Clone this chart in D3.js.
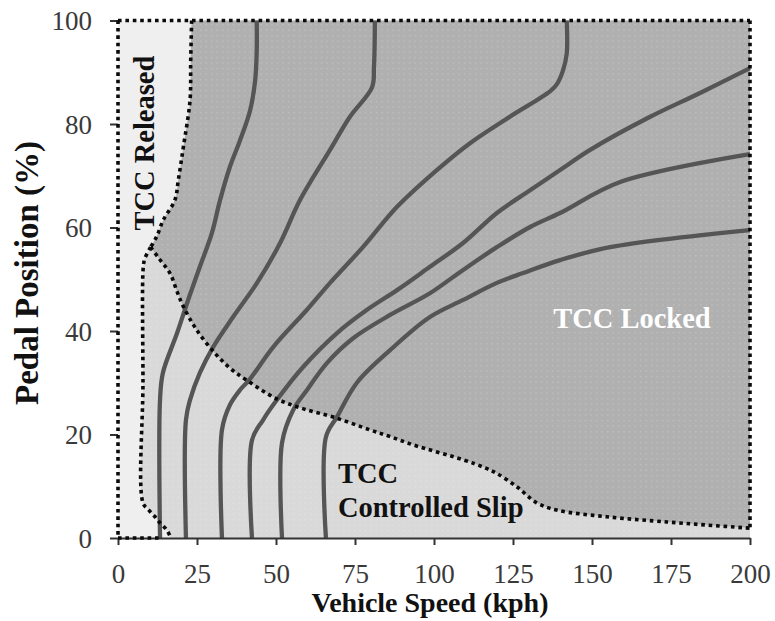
<!DOCTYPE html>
<html>
<head>
<meta charset="utf-8">
<script src="https://cdn.jsdelivr.net/npm/d3@7"></script>
<style>
  html, body { margin: 0; padding: 0; background: #fff; }
  svg { display: block; }
</style>
</head>
<body>
<svg id="chart" width="775" height="621"></svg>
<script>
// Axis ticks
const speedTicks = [0, 25, 50, 75, 100, 125, 150, 175, 200];
const pedalTicks = [0, 20, 40, 60, 80, 100];

// Region boundaries as [vehicle speed (kph), pedal position (%)]
// Released / Locked edge, from the top down to the junction
const releasedEdge = [[23.3, 100], [23.0, 92], [22.8, 84.6], [20.7, 75.6], [19.1, 69.2], [18.0, 65.3],
  [14.3, 61.4], [12.2, 58.2], [10.3, 56.2]];
// Released / Controlled-slip edge, from the junction down to the axis
const slipLeftEdge = [[10.3, 56.2], [8.5, 54], [8.0, 52.4], [7.9, 30], [7.9, 6.8], [9.6, 5.5],
  [11.7, 4.1], [13.3, 2.9], [15.5, 1.5], [16.5, 0.3]];
// Controlled-slip / Locked edge, from the junction out to 200 kph
const lockedEdge = [[10.3, 56.2], [13, 54], [16.5, 51.1], [18.7, 47.6], [20.7, 44.7], [24.9, 40.2],
  [30.7, 35.7], [35.5, 32.8], [40.7, 30.5], [50.2, 26.9], [58.5, 25], [68.5, 23.3], [79.7, 20.9],
  [86.1, 19.6], [93.4, 18], [109.3, 15.1], [116, 13.6], [119.8, 12.5], [126.2, 9.9], [132.5, 6.8],
  [138.8, 5.4], [154.7, 4.1], [173.7, 3.1], [186.4, 2.5], [200, 1.9]];

// Schedule curves, [vehicle speed (kph), pedal position (%)]
const curve1 = [[13.3, 0], [13.3, 26.7], [14.2, 31.9], [18.7, 39.6], [22.2, 46], [25.9, 52.4],
  [29.7, 58.9], [32.3, 65.3], [35.4, 71.7], [38.6, 76.8], [41.8, 82.6], [43.4, 88.4], [43.9, 94.2], [43.9, 100]];
const curve2 = [[21.5, 0], [21.5, 22.8], [22.8, 26.7], [25.9, 31.9], [30.1, 36.9], [36.4, 42.7],
  [44.0, 49.3], [51.3, 57.0], [57.6, 65.3], [67.1, 75.0], [73.4, 81.4], [80.4, 87.1], [81.0, 91], [81.3, 100]];
const curve3 = [[32.9, 0], [32.9, 20.9], [35.4, 25.7], [38.6, 28.6], [41.5, 30.5], [49.1, 36.9],
  [59.8, 44.1], [67.1, 49.3], [77.5, 56.2], [88.3, 64.0], [100.9, 71.1], [111.4, 76.3], [124, 81.4],
  [136.7, 86.3], [138.9, 87.7], [140.8, 90.3], [142, 93.6], [142, 100]];
const curve4 = [[42.4, 0], [42.4, 18.9], [45.9, 22.8], [50.3, 26.7], [58.5, 33.0], [69.3, 39.6],
  [78.8, 44.1], [88.3, 47.9], [98.7, 52.4], [109.2, 57.0], [119.9, 62.8], [130.4, 67.2], [139.9, 71.1],
  [149.4, 75.0], [168.4, 81.4], [184.2, 86.0], [200, 90.8]];
const curve5 = [[51.9, 0], [51.9, 18.4], [55.4, 24.7], [59.8, 28.6], [66.1, 33.8], [74.4, 38.6],
  [86.1, 43.1], [98.7, 47.3], [109.2, 51.8], [119.9, 56.2], [130.4, 60.1], [139.9, 62.8], [158.9, 68.8],
  [200, 74.2]];
const curve6 = [[65.8, 0], [65.8, 19.5], [69.3, 23.4], [75.6, 30.0], [86.1, 36.3], [98.7, 42.7],
  [109.2, 46.0], [119.9, 49.3], [128.2, 51.2], [139.9, 53.7], [155.7, 56.2], [200, 59.5]];
const curves = [curve1, curve2, curve3, curve4, curve5, curve6];

const svg = d3.select('#chart');
const x = d3.scaleLinear().domain([0, 200]).range([118, 750]);
const y = d3.scaleLinear().domain([0, 100]).range([538, 20.5]);

const smooth = d3.line().x(d => x(d[0])).y(d => y(d[1])).curve(d3.curveCatmullRom.alpha(0.5));
const straight = d3.line().x(d => x(d[0])).y(d => y(d[1]));
// join smooth boundary pieces and straight frame pieces into one closed outline
const joinPath = segs => segs.map((s, i) => {
  const d = s.linear ? straight(s.pts) : smooth(s.pts);
  return i === 0 ? d : d.replace(/^M/, 'L');
}).join('') + 'Z';

const serif = "'Liberation Serif', 'Times New Roman', serif";
const lastLocked = lockedEdge[lockedEdge.length - 1];
const lastSlip = slipLeftEdge[slipLeftEdge.length - 1];

// fine stipple texture of the shaded regions
const defs = svg.append('defs');
const pat = defs.append('pattern').attr('id', 'stipple')
  .attr('patternUnits', 'userSpaceOnUse').attr('width', 5.5).attr('height', 5.5);
pat.append('rect').attr('x', 2).attr('y', 2).attr('width', 1.2).attr('height', 1.2)
  .attr('fill', '#ffffff').attr('opacity', 0.28);

const plot = svg.append('g');

// TCC Released background
plot.append('rect')
  .attr('x', x(0)).attr('y', y(100))
  .attr('width', x(200) - x(0)).attr('height', y(0) - y(100))
  .attr('fill', '#efefef');

// TCC Controlled Slip
const slipOutline = joinPath([
  { pts: slipLeftEdge },
  { pts: [lastSlip, [lastSlip[0], 0], [200, 0], lastLocked], linear: true },
  { pts: lockedEdge.slice().reverse() }
]);
plot.append('path').attr('d', slipOutline).attr('fill', '#d9d9d9');
plot.append('path').attr('d', slipOutline).attr('fill', 'url(#stipple)');

// TCC Locked
const lockedOutline = joinPath([
  { pts: releasedEdge },
  { pts: lockedEdge },
  { pts: [lastLocked, [200, 100]], linear: true }
]);
plot.append('path').attr('d', lockedOutline).attr('fill', '#b0b0b0');
plot.append('path').attr('d', lockedOutline).attr('fill', 'url(#stipple)');

// schedule curves
plot.selectAll('path.curve').data(curves).join('path')
  .attr('class', 'curve')
  .attr('d', smooth)
  .attr('fill', 'none')
  .attr('stroke', '#555555')
  .attr('stroke-width', 4.3)
  .attr('stroke-linejoin', 'round');

// x axis
const xAxis = svg.append('g').attr('transform', `translate(0,${y(0)})`)
  .call(d3.axisBottom(x).tickValues(speedTicks).tickSize(7).tickSizeOuter(0).tickPadding(19));
xAxis.select('.domain').attr('stroke', '#333').attr('stroke-width', 2.2);
xAxis.selectAll('.tick line').attr('stroke', '#333').attr('stroke-width', 2);
xAxis.selectAll('.tick text')
  .attr('font-family', serif).attr('font-size', 27).attr('fill', '#3a3a3a')
  .attr('dy', '0.71em');

// y axis
const yAxis = svg.append('g').attr('transform', `translate(${x(0)},0)`)
  .call(d3.axisLeft(y).tickValues(pedalTicks).tickSize(8).tickSizeOuter(0).tickPadding(18));
yAxis.select('.domain').remove();
yAxis.selectAll('.tick line').attr('stroke', '#333').attr('stroke-width', 2);
yAxis.selectAll('.tick text')
  .attr('font-family', serif).attr('font-size', 27).attr('fill', '#3a3a3a')
  .attr('dy', '0.34em');

// dotted region borders
const dotted = [releasedEdge, slipLeftEdge, lockedEdge];
const frame = [
  [[0, 100], [200, 100]],
  [[200, 100], lastLocked],
  [[0, 100], [0, 0]],
  [[0, 0], [13, 0]]
];
const dotStyle = sel => sel.attr('fill', 'none').attr('stroke', '#0a0a0a')
  .attr('stroke-width', 3.6).attr('stroke-dasharray', '3.6 3.8');
svg.append('g').selectAll('path').data(dotted).join('path').attr('d', smooth).call(dotStyle);
svg.append('g').selectAll('path').data(frame).join('path').attr('d', straight).call(dotStyle);

// region labels
const labels = svg.append('g').attr('font-family', serif).attr('font-weight', 'bold').attr('font-size', 28.5);
labels.append('text').attr('x', x(137.7)).attr('y', y(40.6)).attr('fill', '#ffffff').text('TCC Locked');
labels.append('text').attr('x', x(69.6)).attr('y', y(10.6)).attr('fill', '#111').text('TCC');
labels.append('text').attr('x', x(69.6)).attr('y', y(4.1)).attr('fill', '#111').text('Controlled Slip');
labels.append('text')
  .attr('transform', `translate(${x(11.3)},${y(76.3)}) rotate(-90)`)
  .attr('text-anchor', 'middle').attr('fill', '#111').text('TCC Released');

// axis titles
svg.append('text')
  .attr('x', 430).attr('y', 612)
  .attr('text-anchor', 'middle')
  .attr('font-family', serif).attr('font-weight', 'bold').attr('font-size', 28).attr('fill', '#111')
  .text('Vehicle Speed (kph)');
svg.append('text')
  .attr('transform', 'translate(38,273) rotate(-90)')
  .attr('text-anchor', 'middle')
  .attr('font-family', serif).attr('font-weight', 'bold').attr('font-size', 33).attr('fill', '#111')
  .text('Pedal Position (%)');
</script>
</body>
</html>
